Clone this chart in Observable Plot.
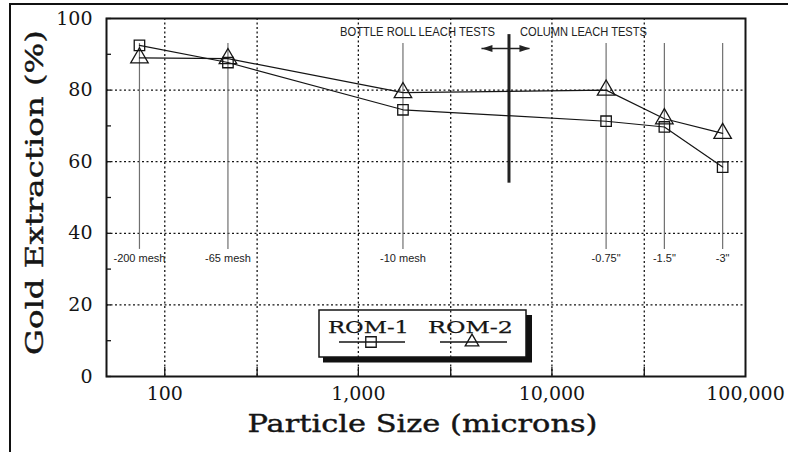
<!DOCTYPE html>
<html><head><meta charset="utf-8">
<script src="https://cdn.jsdelivr.net/npm/d3@7"></script>
<script src="https://cdn.jsdelivr.net/npm/@observablehq/plot@0.6"></script>
<style>
body{margin:0;background:#fff;}
#wrap{position:relative;width:788px;height:452px;overflow:hidden;background:#fff;}
#border{position:absolute;left:9px;top:3px;width:800px;height:460px;border-left:2px solid #111;border-top:2px solid #111;}
#overlay{position:absolute;left:0;top:0;pointer-events:none;}
</style></head><body><div id="wrap"><div id="border"></div></div>
<script>
// ---- data ----
const particleSize = [74, 212, 1700, 19050, 38100, 76200];           // microns
const sizeLabels   = ["-200 mesh", "-65 mesh", "-10 mesh", "-0.75\"", "-1.5\"", "-3\""];
const rom1 = [92.5, 87.7, 74.5, 71.3, 69.7, 58.5];
const rom2 = [89.0, 88.8, 79.3, 80.0, 72.0, 67.9];
const seriesNames = ["ROM-1", "ROM-2"];
const xTicks = [100, 300, 1000, 3000, 10000, 30000, 100000];
const yTicks = [0, 20, 40, 60, 80, 100];
const yMinorTicks = [0, 10, 20, 30, 40, 50, 60, 70, 80, 90, 100];
const dividerSize = [6000];
const testHeaders = ["BOTTLE ROLL LEACH TESTS", "COLUMN LEACH TESTS"];
const arrowEnds = [4350, 7700];
const yTitle = "Gold Extraction (%)";
const xTitle = "Particle Size (microns)";

const data = particleSize.map((x, i) => ({x, label: sizeLabels[i], rom1: rom1[i], rom2: rom2[i]}));

const serif = "'DejaVu Serif', serif";
const sans = "'Liberation Sans', Arial, sans-serif";
const ink = "#151515";

const headLeft = {draw(c, size){ const k = Math.sqrt(size / Math.PI); c.moveTo(-k*2.2, 0); c.lineTo(k*0.8, -k); c.lineTo(k*0.8, k); c.closePath(); }};
const headRight = {draw(c, size){ const k = Math.sqrt(size / Math.PI); c.moveTo(k*2.2, 0); c.lineTo(-k*0.8, -k); c.lineTo(-k*0.8, k); c.closePath(); }};

const chart = Plot.plot({
  width: 788, height: 452,
  marginLeft: 106, marginRight: 43, marginTop: 18, marginBottom: 76,
  style: {fontFamily: serif, background: "transparent", color: ink, overflow: "visible"},
  x: {type: "log", domain: [50, 100000]},
  y: {domain: [0, 100]},
  marks: [
    Plot.gridY(yTicks.slice(1, -1), {stroke: ink, strokeOpacity: 1, strokeDasharray: "2,2.5", strokeWidth: 1.3}),
    Plot.gridX(xTicks.slice(0, -1), {stroke: ink, strokeOpacity: 1, strokeDasharray: "2,2.5", strokeWidth: 1.3}),
    Plot.axisY(yTicks, {tickSize: 0, tickPadding: 14, fontSize: 19, label: null}),
    Plot.axisY(yMinorTicks, {tickSize: -5, text: null, label: null, strokeWidth: 1.3}),
    Plot.axisX(xTicks, {tickSize: 0, tickPadding: 10, fontSize: 19, tickFormat: d3.format(","), label: null}),
    Plot.axisX(xTicks.slice(0, -1), {tickSize: -9, text: null, label: null, strokeWidth: 1.3}),
    Plot.ruleX(data, {x: "x", y1: 35.5, y2: 93, stroke: "#707070", strokeWidth: 1.2}),
    Plot.text(data, {x: "x", y: 33, text: "label", fontFamily: sans, fontSize: 11, fill: "#222"}),
    Plot.ruleX(dividerSize, {y1: 54, y2: 95.5, stroke: "#222", strokeWidth: 3}),
    Plot.text(dividerSize, {x: d => d, y: 96.2, text: () => testHeaders[0], textAnchor: "end", dx: -14, fontFamily: sans, fontSize: 12.5, fill: "#222"}),
    Plot.text(dividerSize, {x: d => d, y: 96.2, text: () => testHeaders[1], textAnchor: "start", dx: 11, fontFamily: sans, fontSize: 12.5, fill: "#222"}),
    Plot.ruleY([91.6], {x1: arrowEnds[0], x2: arrowEnds[1], stroke: "#222", strokeWidth: 1.5}),
    Plot.dot([arrowEnds[0]], {x: d => d, y: 91.6, symbol: headLeft, r: 3.5, dx: 7.7, fill: "#222", stroke: "none"}),
    Plot.dot([arrowEnds[1]], {x: d => d, y: 91.6, symbol: headRight, r: 3.5, dx: -7.7, fill: "#222", stroke: "none"}),
    Plot.line(data, {x: "x", y: "rom1", stroke: ink, strokeWidth: 1.2}),
    Plot.line(data, {x: "x", y: "rom2", stroke: ink, strokeWidth: 1.2}),
    Plot.dot(data, {x: "x", y: "rom1", symbol: "square", r: 5.9, stroke: ink, strokeWidth: 1.3, fill: "none"}),
    Plot.dot(data, {x: "x", y: "rom2", symbol: "triangle", r: 6.5, stroke: ink, strokeWidth: 1.3, fill: "none"}),
    Plot.frame({stroke: ink, strokeWidth: 2}),
    Plot.text([yTitle], {frameAnchor: "left", textAnchor: "middle", lineAnchor: "middle", rotate: -90, dx: -72, dy: -5, fontSize: 25, fill: ink, stroke: ink, strokeWidth: 0.4}),
    Plot.text([xTitle], {frameAnchor: "bottom", textAnchor: "middle", lineAnchor: "bottom", dx: -3.5, dy: 55, fontSize: 24, fill: ink, stroke: ink, strokeWidth: 0.4})
  ]
});

document.getElementById("wrap").appendChild(chart);

// stretch some texts to the reference's widths, keeping their original anchor point
const fits = new Map([[yTitle, 325], [xTitle, 350], [testHeaders[0], 155], [testHeaders[1], 127]]);
d3.select(chart).selectAll("text").each(function() {
  const len = fits.get(this.textContent);
  if (!len) return;
  const anchor = getComputedStyle(this).textAnchor;
  const b0 = this.getBBox();
  const ref = anchor === "end" ? b0.x + b0.width : anchor === "start" ? b0.x : b0.x + b0.width / 2;
  this.setAttribute("textLength", len);
  this.setAttribute("lengthAdjust", "spacingAndGlyphs");
  this.setAttribute("text-anchor", "start");
  const b1 = this.getBBox();
  const target = anchor === "end" ? ref - len : anchor === "start" ? ref : ref - len / 2;
  const cur = +(this.getAttribute("x") || 0);
  this.setAttribute("x", cur + (target - b1.x));
});

// ---- legend (overlay) ----
const lg = d3.select("#wrap").append("svg").attr("id", "overlay").attr("width", 788).attr("height", 452);
lg.append("rect").attr("x", 323).attr("y", 357).attr("width", 209).attr("height", 5.5).attr("fill", "#111");
lg.append("rect").attr("x", 526).attr("y", 315).attr("width", 6).attr("height", 47).attr("fill", "#111");
lg.append("rect").attr("x", 319).attr("y", 310).attr("width", 207).attr("height", 47).attr("fill", "none").attr("stroke", ink).attr("stroke-width", 1.5);
const items = [
  {name: seriesNames[0], tx: 328, len: 81, l1: 339, l2: 405, mx: 371, sym: d3.symbolSquare, r: 5.9},
  {name: seriesNames[1], tx: 428, len: 85, l1: 440, l2: 507, mx: 472, sym: d3.symbolTriangle2, r: 6.5}
];
for (const it of items) {
  lg.append("text").attr("x", it.tx).attr("y", 333).attr("font-family", serif).attr("font-size", 17)
    .attr("fill", ink).attr("stroke", ink).attr("stroke-width", 0.25)
    .attr("textLength", it.len).attr("lengthAdjust", "spacingAndGlyphs").text(it.name);
  lg.append("line").attr("x1", it.l1).attr("x2", it.l2).attr("y1", 342).attr("y2", 342).attr("stroke", ink).attr("stroke-width", 1.3);
  lg.append("path").attr("transform", `translate(${it.mx},342)`).attr("d", d3.symbol(it.sym, it.r * it.r * Math.PI)())
    .attr("fill", "none").attr("stroke", ink).attr("stroke-width", 1.3);
}
</script>
</body></html>
